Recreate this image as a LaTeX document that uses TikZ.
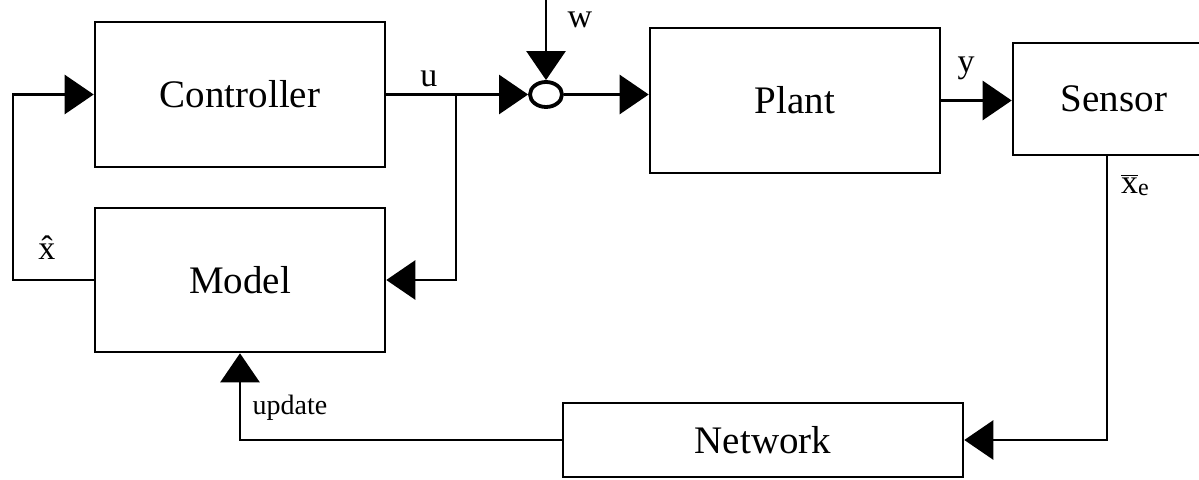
\documentclass[tikz,border=0pt]{standalone}
\usepackage{fontspec}
\setmainfont{Liberation Serif}
\usetikzlibrary{arrows.meta, positioning, shapes.geometric}

\begin{document}
\begin{tikzpicture}[
  x=0.5pt, y=-0.5pt,
  blk/.style={draw, line width=1.3pt, minimum width=145pt, minimum height=72.5pt,
              inner sep=0pt, font=\fontsize{19.5}{22}\selectfont},
  flow/.style={-{Triangle[length=14.5pt, width=19.5pt]}, line width=1.3pt},
  lbl/.style={font=\fontsize{17}{20}\selectfont, inner sep=1pt},
  sumpt/.style={draw, ellipse, line width=1.9pt, minimum width=16pt,
                minimum height=12.5pt, inner sep=0pt}
]
\useasboundingbox (0,0) rectangle (1199,480);

\node[blk] (ctrl)  at (240,94.5)  {Controller};
\node[blk, minimum height=72pt] (model) at (240,280) {Model};
\node[blk] (plant) at (795,100.5) {Plant};
\node[blk, minimum width=101pt, minimum height=56pt] (sensor) at (1114,99) {Sensor};
\node[blk, minimum width=200pt, minimum height=37pt] (net) at (763,440) {Network};
\node[sumpt] (sum) at (546,94.5) {};

\coordinate (br)   at (456,94.5);
\coordinate (lft)  at (13,0);
\coordinate (sdn)  at (1107,0);
\coordinate (wtop) at (546,0);

% forward path
\draw[flow] (ctrl.east) -- node[lbl, pos=0.3, above=2pt]{u} (sum.west);
\draw[flow] (wtop) -- (sum.north);
\draw[flow] (sum.east) -- (sum.east -| plant.west);
\draw[flow] (plant.east) -- (plant.east -| sensor.west);

% model branch and loops
\draw[flow] (br) |- (model.east);
\draw[flow] (model.west) -- (model.west -| lft) |- (ctrl.west);
\draw[flow] (sensor.south -| sdn) |- (net.east);
\draw[flow] (net.west) -| (model.south);

% labels
\node[lbl] (wlbl) at (580,20)  {w};
\node[lbl] (ylbl) at (966,68)  {y};
\node[lbl] (xhat) at (47,248)  {\^{x}};
\node[lbl] (xbar) at (1135,185) {$\overline{\mbox{x}}$\raisebox{-1pt}{\fontsize{12}{12}\selectfont e}};
\node[font=\fontsize{14}{16}\selectfont] (upd) at (290,408) {update};

\end{tikzpicture}
\end{document}
